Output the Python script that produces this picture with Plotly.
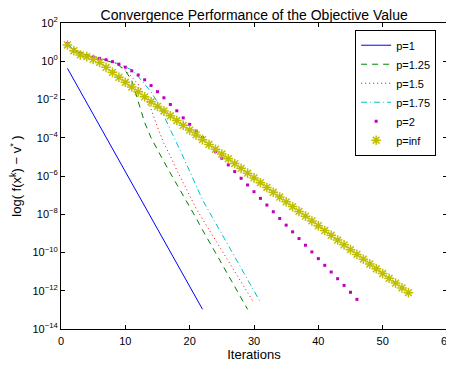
import plotly.graph_objects as go

# log10 of f(x^k) - v* for each p, iterations start at 1
p1_log = [-0.37, -0.97, -1.57, -2.17, -2.77, -3.37, -3.97, -4.57, -5.17, -5.77, -6.37,
          -6.97, -7.57, -8.17, -8.77, -9.37, -9.97, -10.57, -11.17, -11.77, -12.37, -12.97]
p125_log = [0.92, 0.6, 0.42, 0.3, 0.21, 0.13, 0.05, -0.06, -0.22, -0.5, -1.0, -2.1, -3.2,
            -4.0, -4.65, -5.25, -5.85, -6.42, -7.0, -7.6, -8.2, -8.82, -9.4, -10.0, -10.6,
            -11.18, -11.78, -12.38, -12.97]
p15_log = [0.92, 0.6, 0.42, 0.3, 0.22, 0.14, 0.07, -0.04, -0.2, -0.45, -0.8, -1.2, -1.85,
           -2.5, -3.45, -4.3, -4.95, -5.7, -6.35, -7.05, -7.7, -8.25, -8.8, -9.35, -9.9,
           -10.45, -11.0, -11.55, -12.1, -12.64]
p175_log = [0.92, 0.6, 0.42, 0.3, 0.22, 0.15, 0.08, -0.02, -0.15, -0.3, -0.45, -0.8, -1.2,
            -1.6, -2.15, -2.85, -3.6, -4.3, -5.0, -5.75, -6.55, -7.25, -7.85, -8.45, -9.0,
            -9.6, -10.2, -10.8, -11.4, -12.0, -12.6]
p2_log = [0.92, 0.6, 0.42, 0.3, 0.22, 0.15, 0.08, -0.02, -0.15, -0.31, -0.5, -0.72, -0.97,
          -1.27, -1.59, -1.91, -2.26, -2.59, -2.96, -3.3, -3.65, -4.0, -4.36, -4.72, -5.07,
          -5.42, -5.77, -6.12, -6.47, -6.82, -7.17, -7.52, -7.87, -8.22, -8.57, -8.92,
          -9.27, -9.62, -9.97, -10.32, -10.67, -11.02, -11.37, -11.72, -12.08, -12.45]
pinf_log = [0.85, 0.55, 0.33, 0.24, 0.1, -0.06, -0.32, -0.58, -0.84, -1.1, -1.35, -1.6,
            -1.86, -2.12, -2.36, -2.6, -2.85, -3.1, -3.35, -3.6, -3.85, -4.1, -4.35, -4.6,
            -4.85, -5.1, -5.35, -5.6, -5.85, -6.1, -6.35, -6.6, -6.85, -7.1, -7.35, -7.6,
            -7.85, -8.1, -8.35, -8.6, -8.85, -9.1, -9.35, -9.6, -9.85, -10.1, -10.35,
            -10.6, -10.85, -11.1, -11.35, -11.6, -11.85, -12.1]

labels = ["p=1", "p=1.25", "p=1.5", "p=1.75", "p=2", "p=inf"]
x_ticks = [0, 10, 20, 30, 40, 50, 60]
y_tick_exps = [2, 0, -2, -4, -6, -8, -10, -12, -14]

FONT = "Liberation Sans, Arial, sans-serif"


def xs(vals):
    return list(range(1, len(vals) + 1))


def ys(vals):
    return [10 ** v for v in vals]


fig = go.Figure()
fig.add_trace(go.Scatter(x=xs(p1_log), y=ys(p1_log), name=labels[0], mode="lines",
                         line=dict(color="#0000ff", width=1)))
fig.add_trace(go.Scatter(x=xs(p125_log), y=ys(p125_log), name=labels[1], mode="lines",
                         line=dict(color="#008000", width=1, dash="6px,5px")))
fig.add_trace(go.Scatter(x=xs(p15_log), y=ys(p15_log), name=labels[2], mode="lines",
                         line=dict(color="#ff0000", width=1, dash="1px,3px")))
fig.add_trace(go.Scatter(x=xs(p175_log), y=ys(p175_log), name=labels[3], mode="lines",
                         line=dict(color="#00bfbf", width=1, dash="6px,3px,1px,3px")))
fig.add_trace(go.Scatter(x=xs(p2_log), y=ys(p2_log), name=labels[4], mode="markers",
                         marker=dict(color="#bf00bf", size=3, symbol="square")))
fig.add_trace(go.Scatter(x=xs(pinf_log), y=ys(pinf_log), name=labels[5], mode="markers",
                         marker=dict(symbol="asterisk-open", size=8, color="#bfbf00",
                                     line=dict(color="#bfbf00", width=1.5))))

# page body has an 8px default margin, so the figure is sized/offset to compensate
fig.update_layout(
    width=446, height=365,
    margin=dict(l=53, r=7, t=15, b=44, autoexpand=False),
    paper_bgcolor="white", plot_bgcolor="white",
    font=dict(family=FONT, size=11, color="black"),
    title=dict(text="Convergence Performance of the Objective Value",
               x=0.552, xanchor="center", xref="container",
               y=0.993, yanchor="top", pad=dict(t=0, b=0),
               font=dict(size=14, family=FONT)),
    showlegend=True,
    legend=dict(x=0.762, y=0.978, xanchor="left", yanchor="top",
                bordercolor="black", borderwidth=1, bgcolor="white",
                font=dict(size=11, family=FONT), tracegroupgap=0,
                itemwidth=30),
)
fig.update_xaxes(range=[0, 60], tickvals=x_ticks, ticktext=[str(t) for t in x_ticks],
                 ticks="inside", ticklen=4, tickcolor="black", mirror="ticks",
                 showline=True, linecolor="black", linewidth=1, showgrid=False,
                 zeroline=False, automargin=False, ticklabelstandoff=2,
                 title=dict(text="Iterations", font=dict(size=13, family=FONT), standoff=1))
fig.update_yaxes(type="log", range=[-14, 2], tickvals=[10 ** e for e in y_tick_exps],
                 ticktext=["10<sup>%s</sup>" % (str(e).replace("-", "\u2212")) for e in y_tick_exps],
                 ticks="inside", ticklen=4, tickcolor="black", mirror="ticks",
                 showline=True, linecolor="black", linewidth=1, showgrid=False,
                 zeroline=False, automargin=False,
                 title=dict(text="log( f(x<sup>k</sup>) \u2212 v<sup>*</sup> )",
                            font=dict(size=13, family=FONT), standoff=14))

fig.write_html("out.html")
